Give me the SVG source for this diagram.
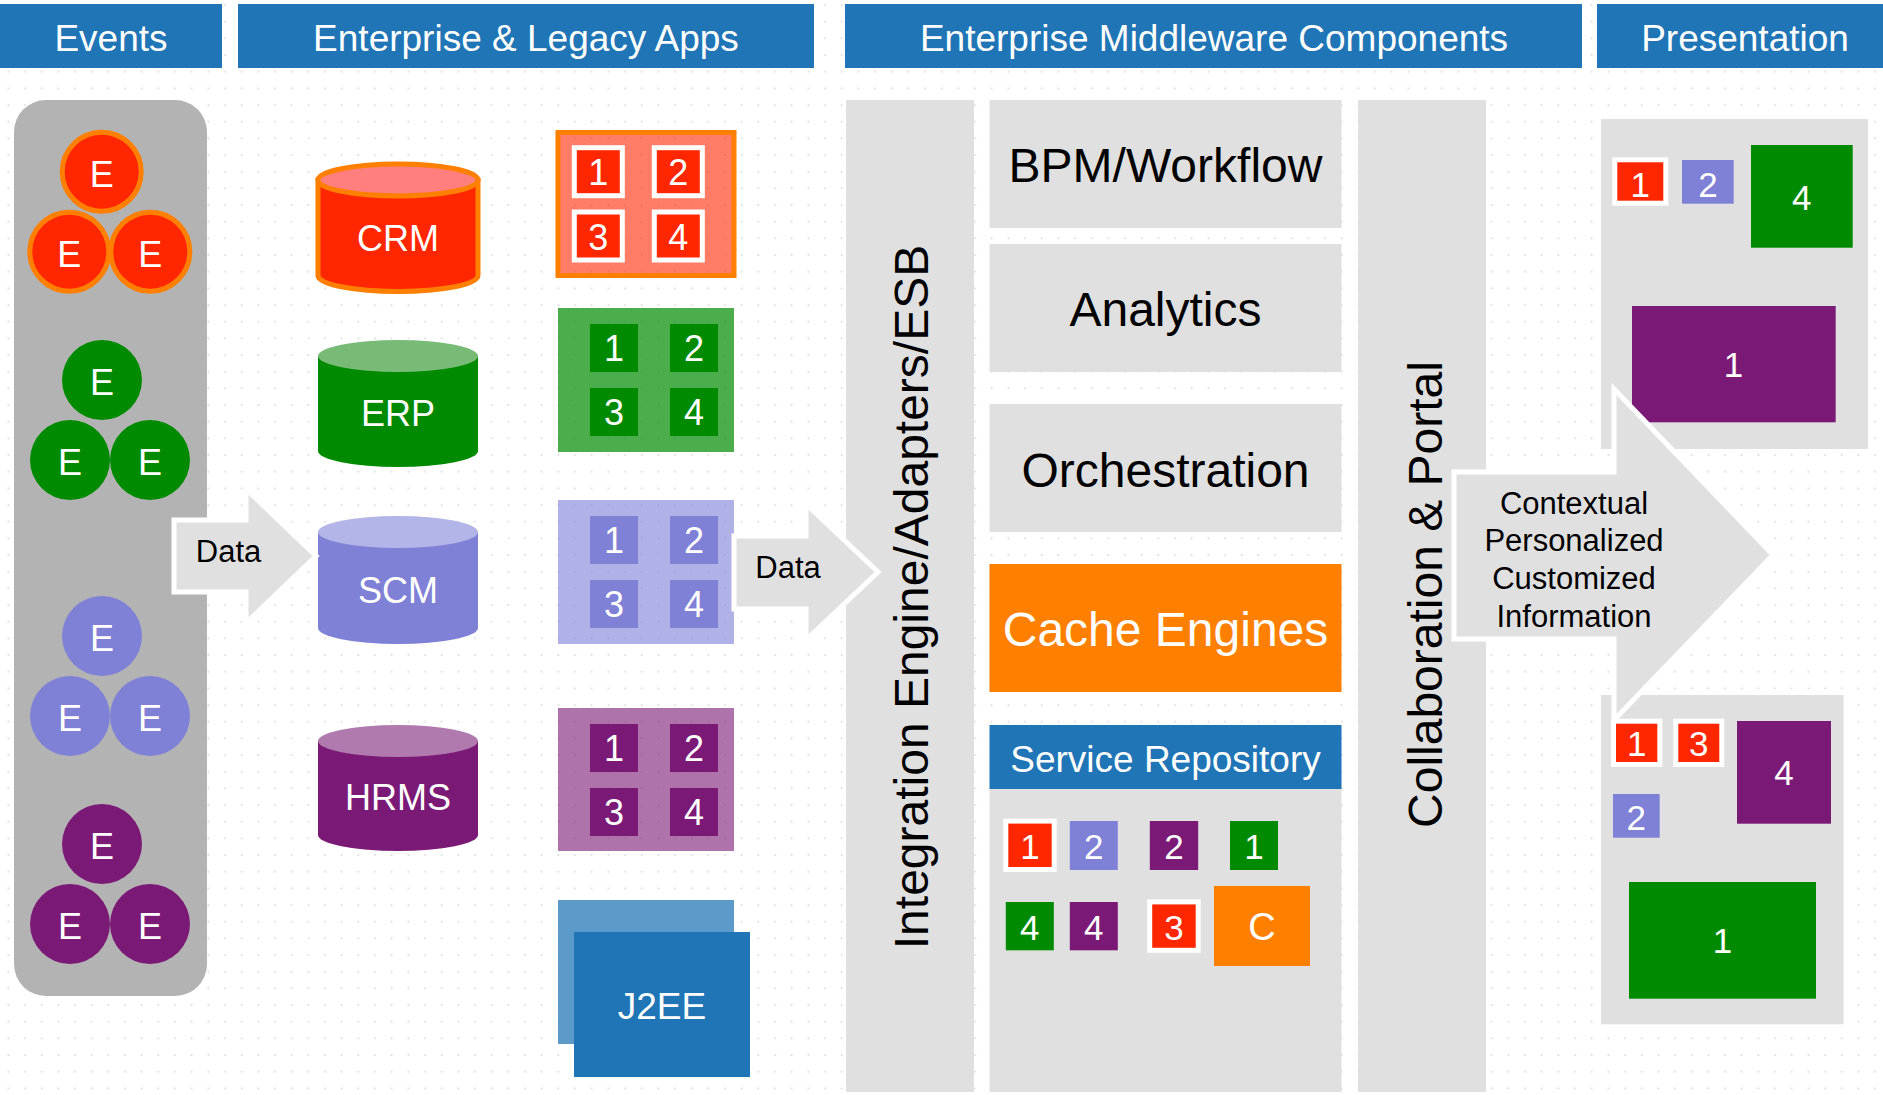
<svg xmlns="http://www.w3.org/2000/svg" width="1883" height="1095" viewBox="0 0 1883 1095">
<defs>
<pattern id="dots" patternUnits="userSpaceOnUse" x="0" y="0" width="16.667" height="16.667">
<circle cx="8.33" cy="5" r="0.9" fill="#cfcfcf"/>
</pattern>
</defs>
<style>
text{font-family:'Liberation Sans',Arial,sans-serif}
.hdr{fill:#1f75b5}
.ht{fill:#fff;font-size:37px;text-anchor:middle}
.wt{fill:#fff;text-anchor:middle}
.bt{fill:#000;text-anchor:middle}
.e{fill:#fff;font-size:36px;text-anchor:middle}
.n{fill:#fff;font-size:36px;text-anchor:middle}
.s{fill:#fff;font-size:35px;text-anchor:middle}
.gray{fill:#e0e0e0}
.red{fill:#ff2600}
.org{fill:#ff7f00}
.grn{fill:#008a00}
.lav{fill:#7f81d6}
.pur{fill:#7b1a76}
.wb{stroke:#fff;stroke-width:5}
.arrow{fill:#e0e0e0;stroke:#fff;stroke-width:5;stroke-linejoin:miter}
</style>
<rect width="1883" height="1095" fill="#fff"/>
<rect width="1883" height="1095" fill="url(#dots)"/>

<g id="headers">
<g id="hdr-events"><rect class="hdr" x="0" y="4" width="222" height="64"/><text class="ht" x="111" y="51">Events</text></g>
<g id="hdr-apps"><rect class="hdr" x="238" y="4" width="576" height="64"/><text class="ht" x="526" y="51">Enterprise &amp; Legacy Apps</text></g>
<g id="hdr-mw"><rect class="hdr" x="845" y="4" width="737" height="64"/><text class="ht" x="1214" y="51">Enterprise Middleware Components</text></g>
<g id="hdr-pres"><rect class="hdr" x="1597" y="4" width="296" height="64"/><text class="ht" x="1745" y="51">Presentation</text></g>
</g>

<g id="events">
<rect x="14" y="100" width="193" height="896" rx="32" fill="#b3b3b3"/>
<g id="ev-red">
<circle class="red" cx="101.7" cy="171.7" r="39.5" stroke="#ff7f00" stroke-width="5"/>
<circle class="red" cx="69.3" cy="251.7" r="39.5" stroke="#ff7f00" stroke-width="5"/>
<circle class="red" cx="150.3" cy="251.7" r="39.5" stroke="#ff7f00" stroke-width="5"/>
<text class="e" x="101.7" y="186.5">E</text><text class="e" x="69.3" y="266.5">E</text><text class="e" x="150.3" y="266.5">E</text>
</g>
<g id="ev-green">
<circle class="grn" cx="102" cy="380" r="40"/><circle class="grn" cx="70" cy="460" r="40"/><circle class="grn" cx="150" cy="460" r="40"/>
<text class="e" x="102" y="394.5">E</text><text class="e" x="70" y="474.5">E</text><text class="e" x="150" y="474.5">E</text>
</g>
<g id="ev-lav">
<circle class="lav" cx="102" cy="636" r="40"/><circle class="lav" cx="70" cy="716" r="40"/><circle class="lav" cx="150" cy="716" r="40"/>
<text class="e" x="102" y="650.5">E</text><text class="e" x="70" y="730.5">E</text><text class="e" x="150" y="730.5">E</text>
</g>
<g id="ev-pur">
<circle class="pur" cx="102" cy="844" r="40"/><circle class="pur" cx="70" cy="924" r="40"/><circle class="pur" cx="150" cy="924" r="40"/>
<text class="e" x="102" y="858.5">E</text><text class="e" x="70" y="938.5">E</text><text class="e" x="150" y="938.5">E</text>
</g>
</g>

<g id="crm">
<path d="M318,180 V275.5 A80,16 0 0 0 478,275.5 V180 Z" fill="#ff2600" stroke="#ff7f00" stroke-width="5"/>
<ellipse cx="398" cy="180" rx="80" ry="16" fill="#ff7f7f" stroke="#ff7f00" stroke-width="5"/>
<text class="wt" x="398" y="251" font-size="36">CRM</text>
</g>
<g id="erp">
<path d="M318,356 V451 A80,16 0 0 0 478,451 V356 Z" fill="#008a00"/>
<ellipse cx="398" cy="356" rx="80" ry="16" fill="#77bb77"/>
<text class="wt" x="398" y="426" font-size="36">ERP</text>
</g>
<g id="scm">
<path d="M318,532 V628 A80,16 0 0 0 478,628 V532 Z" fill="#7f81d6"/>
<ellipse cx="398" cy="532" rx="80" ry="16" fill="#b3b4e8"/>
<text class="wt" x="398" y="602.5" font-size="36">SCM</text>
</g>
<g id="hrms">
<path d="M318,741 V835 A80,16 0 0 0 478,835 V741 Z" fill="#7b1a76"/>
<ellipse cx="398" cy="741" rx="80" ry="16" fill="#b07aae"/>
<text class="wt" x="398" y="810" font-size="36">HRMS</text>
</g>

<g id="mod-crm">
<rect x="558" y="132.5" width="176" height="143" fill="#ff2600" fill-opacity="0.6" stroke="#ff7f00" stroke-width="5"/>
<rect class="red wb" x="574.3" y="147.7" width="48" height="48"/><rect class="red wb" x="654.3" y="147.7" width="48" height="48"/>
<rect class="red wb" x="574.3" y="212" width="48" height="48"/><rect class="red wb" x="654.3" y="212" width="48" height="48"/>
<text class="n" x="598.3" y="185">1</text><text class="n" x="678.3" y="185">2</text>
<text class="n" x="598.3" y="249.5">3</text><text class="n" x="678.3" y="249.5">4</text>
</g>
<g id="mod-erp">
<rect x="558" y="308" width="176" height="144" fill="#008a00" fill-opacity="0.7"/>
<rect class="grn" x="590" y="324" width="48" height="48"/><rect class="grn" x="670" y="324" width="48" height="48"/>
<rect class="grn" x="590" y="388" width="48" height="48"/><rect class="grn" x="670" y="388" width="48" height="48"/>
<text class="n" x="614" y="361">1</text><text class="n" x="694" y="361">2</text>
<text class="n" x="614" y="425">3</text><text class="n" x="694" y="425">4</text>
</g>
<g id="mod-scm">
<rect x="558" y="500" width="176" height="144" fill="#7f81d6" fill-opacity="0.62"/>
<rect class="lav" x="590" y="516" width="48" height="48"/><rect class="lav" x="670" y="516" width="48" height="48"/>
<rect class="lav" x="590" y="580" width="48" height="48"/><rect class="lav" x="670" y="580" width="48" height="48"/>
<text class="n" x="614" y="553">1</text><text class="n" x="694" y="553">2</text>
<text class="n" x="614" y="617">3</text><text class="n" x="694" y="617">4</text>
</g>
<g id="mod-hrms">
<rect x="558" y="708" width="176" height="143" fill="#7b1a76" fill-opacity="0.61"/>
<rect class="pur" x="590" y="724" width="48" height="48"/><rect class="pur" x="670" y="724" width="48" height="48"/>
<rect class="pur" x="590" y="788" width="48" height="48"/><rect class="pur" x="670" y="788" width="48" height="48"/>
<text class="n" x="614" y="761">1</text><text class="n" x="694" y="761">2</text>
<text class="n" x="614" y="825">3</text><text class="n" x="694" y="825">4</text>
</g>
<g id="j2ee">
<rect x="558" y="900" width="176" height="144" fill="#5c9bc9"/>
<rect x="574" y="932" width="176" height="145" fill="#1f75b5"/>
<text class="wt" x="662" y="1019" font-size="37">J2EE</text>
</g>

<g id="integration">
<rect class="gray" x="846" y="100" width="128" height="992"/>
<text class="bt" transform="translate(928,597) rotate(-90)" font-size="48">Integration Engine/Adapters/ESB</text>
</g>
<g id="bpm"><rect class="gray" x="989.5" y="100" width="352" height="128"/><text class="bt" x="1165.5" y="182" font-size="48">BPM/Workflow</text></g>
<g id="analytics"><rect class="gray" x="989.5" y="244" width="352" height="128"/><text class="bt" x="1165.5" y="326" font-size="48">Analytics</text></g>
<g id="orchestration"><rect class="gray" x="989.5" y="404" width="352" height="128"/><text class="bt" x="1165.5" y="486.5" font-size="48">Orchestration</text></g>
<g id="cache"><rect class="org" x="989.5" y="564" width="352" height="128"/><text class="wt" x="1165.5" y="646" font-size="48">Cache Engines</text></g>
<g id="service-repo">
<rect class="gray" x="989.5" y="789" width="352" height="303"/>
<rect fill="#1f75b5" x="989.5" y="725" width="352" height="64"/>
<text class="wt" x="1165.5" y="772" font-size="37">Service Repository</text>
<rect class="red wb" x="1005.8" y="821.1" width="48.4" height="48.4"/><text class="s" x="1030" y="858.5">1</text>
<rect class="lav" x="1069.8" y="821" width="48" height="49"/><text class="s" x="1093.8" y="858.5">2</text>
<rect class="pur" x="1149.8" y="821" width="48.4" height="49"/><text class="s" x="1174" y="858.5">2</text>
<rect class="grn" x="1230" y="821" width="48" height="49"/><text class="s" x="1254" y="858.5">1</text>
<rect class="grn" x="1005.8" y="902" width="48" height="48.3"/><text class="s" x="1029.8" y="939.5">4</text>
<rect class="pur" x="1069.8" y="902" width="48" height="48.3"/><text class="s" x="1093.8" y="939.5">4</text>
<rect class="red wb" x="1149.7" y="901.9" width="48.5" height="48.4"/><text class="s" x="1174" y="939.5">3</text>
<rect class="org" x="1214" y="886" width="96" height="80"/><text class="wt" x="1262" y="940" font-size="38">C</text>
</g>
<g id="collaboration">
<rect class="gray" x="1358" y="100" width="128" height="992"/>
<text class="bt" transform="translate(1442,594.5) rotate(-90)" font-size="48">Collaboration &amp; Portal</text>
</g>

<g id="pres-top">
<rect class="gray" x="1601" y="119" width="267" height="330"/>
<rect class="red wb" x="1614.8" y="159.8" width="51" height="43.4"/><text class="s" x="1640.3" y="197">1</text>
<rect class="lav" x="1682" y="160" width="51.7" height="43.7"/><text class="s" x="1708" y="197">2</text>
<rect class="grn" x="1751" y="145" width="101.7" height="102.7"/><text class="s" x="1801.7" y="209.5">4</text>
<rect class="pur" x="1632" y="306" width="203.7" height="116.3"/><text class="s" x="1733.5" y="377">1</text>
</g>
<g id="pres-bottom">
<rect class="gray" x="1601" y="695" width="242.6" height="329.3"/>
<rect class="red wb" x="1613.5" y="721.2" width="46.3" height="43.3"/><text class="s" x="1636.7" y="756">1</text>
<rect class="red wb" x="1675.8" y="721.2" width="46" height="43.3"/><text class="s" x="1698.8" y="756">3</text>
<rect class="lav" x="1613" y="794" width="46.7" height="43.7"/><text class="s" x="1636.3" y="829.5">2</text>
<rect class="pur" x="1737" y="721" width="94" height="102.7"/><text class="s" x="1784" y="785">4</text>
<rect class="grn" x="1629" y="882" width="187" height="116.7"/><text class="s" x="1722.5" y="953">1</text>
</g>

<g id="connectors">
<g id="data-arrow-1">
<polygon class="arrow" points="174,520 246,520 246,489 316,556 246,623 246,592 174,592"/>
<text class="bt" x="228.5" y="562" font-size="31">Data</text>
</g>
<g id="data-arrow-2">
<polygon class="arrow" points="734,536 806,536 806,504 878,572 806,640 806,609 734,609"/>
<text class="bt" x="788" y="578" font-size="31">Data</text>
</g>
<g id="info-arrow">
<polygon class="arrow" points="1454,472 1614,472 1614,389 1773,555 1614,720 1614,639 1454,639"/>
<text class="bt" x="1574" y="513.5" font-size="31">Contextual</text>
<text class="bt" x="1574" y="551" font-size="31">Personalized</text>
<text class="bt" x="1574" y="589" font-size="31">Customized</text>
<text class="bt" x="1574" y="627" font-size="31">Information</text>
</g>
</g>
</svg>
